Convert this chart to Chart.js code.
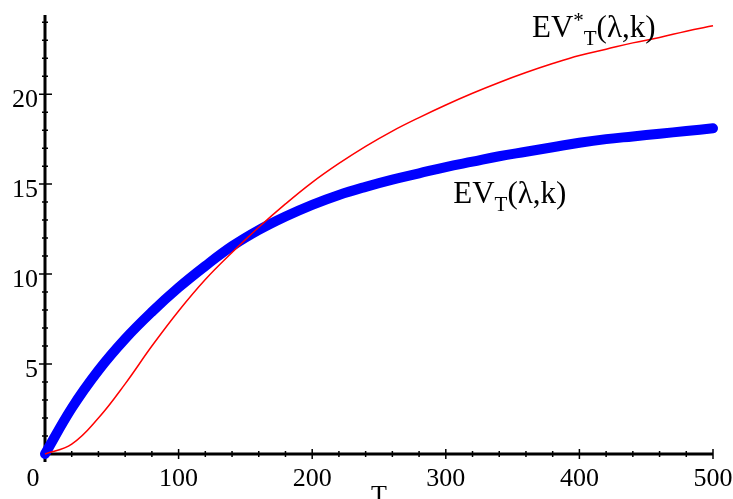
<!DOCTYPE html>
<html>
<head>
<meta charset="utf-8">
<script src="https://cdn.jsdelivr.net/npm/chart.js@4"></script>
<style>
  html, body { margin: 0; padding: 0; background: #fff; }
  #wrap { width: 733px; height: 499px; position: relative; }
</style>
</head>
<body>
<div id="wrap"><canvas id="grafico"></canvas></div>
<script>
// dados
const tValores = [0, 20, 40, 60, 80, 100, 120, 140, 160, 180, 200, 220, 240, 260, 280, 300, 320, 340, 360, 380, 400, 420, 440, 460, 480, 500];
const evT = [0, 2.55, 4.65, 6.4, 7.9, 9.25, 10.45, 11.55, 12.45, 13.2, 13.85, 14.4, 14.85, 15.25, 15.6, 15.95, 16.25, 16.55, 16.8, 17.05, 17.3, 17.5, 17.65, 17.8, 17.95, 18.1];
const evEstrela = [0, 0.55, 2.0, 3.9, 6.0, 7.95, 9.7, 11.2, 12.6, 13.9, 15.1, 16.15, 17.1, 17.95, 18.7, 19.4, 20.05, 20.65, 21.2, 21.7, 22.15, 22.5, 22.85, 23.15, 23.5, 23.8];

const xTicks = [0, 100, 200, 300, 400, 500];
const xMinorStep = 20;
const yTicks = [5, 10, 15, 20];
const yMinorStep = 1;
const yMax = 24.4;

const fonte = '"Liberation Serif", "Times New Roman", serif';

function pontos(ys) {
  return tValores.map((t, i) => ({ x: t, y: ys[i] }));
}

// eixos no estilo Maple (cruzando na origem)
const eixosPlugin = {
  id: 'eixos',
  beforeDatasetsDraw(chart) {
    const ctx = chart.ctx;
    const xs = chart.scales.x, ys = chart.scales.y;
    const x0 = xs.getPixelForValue(0), y0 = ys.getPixelForValue(0);
    const xEnd = xs.getPixelForValue(500), yTop = ys.getPixelForValue(yMax);
    ctx.save();
    ctx.strokeStyle = '#000';
    ctx.lineWidth = 3;
    ctx.beginPath();
    ctx.moveTo(x0, yTop); ctx.lineTo(x0, y0 + 8);
    ctx.moveTo(x0 - 4, y0); ctx.lineTo(xEnd, y0);
    ctx.stroke();

    ctx.lineWidth = 1.5;
    ctx.beginPath();
    for (let v = yMinorStep; v <= yMax; v += yMinorStep) {
      const p = ys.getPixelForValue(v);
      const major = yTicks.includes(v);
      ctx.moveTo(x0 - (major ? 6 : 3), p);
      ctx.lineTo(x0 + (major ? 7 : 3), p);
    }
    for (let v = xMinorStep; v <= 500; v += xMinorStep) {
      const p = xs.getPixelForValue(v);
      const major = xTicks.includes(v);
      ctx.moveTo(p, y0 - (major ? 5 : 3));
      ctx.lineTo(p, y0 + (major ? 5 : 3));
    }
    ctx.stroke();

    // rotulos
    ctx.fillStyle = '#000';
    ctx.font = '26px ' + fonte;
    ctx.textAlign = 'right';
    ctx.textBaseline = 'middle';
    yTicks.forEach(v => ctx.fillText(String(v), x0 - 7, ys.getPixelForValue(v) + 6));
    ctx.textAlign = 'center';
    ctx.textBaseline = 'top';
    xTicks.forEach(v => {
      const p = v === 0 ? x0 - 12 : xs.getPixelForValue(v);
      ctx.fillText(String(v), p, y0 + 12);
    });
    ctx.fillText('T', xs.getPixelForValue(250), y0 + 29);
    ctx.restore();
  }
};

// texto das curvas: EV*_T(λ,k) e EV_T(λ,k)
function desenhaRotulo(ctx, x, y, estrela) {
  ctx.font = '31px ' + fonte;
  ctx.fillText('EV', x, y);
  let px = x + ctx.measureText('EV').width;
  if (estrela) {
    ctx.font = '21px ' + fonte;
    ctx.fillText('*', px, y - 10);
    px += ctx.measureText('*').width;
  }
  ctx.font = '21px ' + fonte;
  ctx.fillText('T', px, y + 8);
  px += ctx.measureText('T').width;
  ctx.font = '31px ' + fonte;
  ctx.fillText('(λ,k)', px, y);
}

const rotulosPlugin = {
  id: 'rotulos',
  afterDraw(chart) {
    const ctx = chart.ctx;
    const xs = chart.scales.x, ys = chart.scales.y;
    ctx.save();
    ctx.fillStyle = '#000';
    ctx.textAlign = 'left';
    ctx.textBaseline = 'alphabetic';
    desenhaRotulo(ctx, xs.getPixelForValue(364.5), ys.getPixelForValue(23.2), true);
    desenhaRotulo(ctx, xs.getPixelForValue(305.6), ys.getPixelForValue(13.95), false);
    ctx.restore();
  }
};

new Chart(document.getElementById('grafico'), {
  type: 'line',
  data: {
    datasets: [
      {
        label: 'EV*T(λ,k)',
        data: pontos(evEstrela),
        borderColor: '#ff0000',
        borderWidth: 1.5,
        pointRadius: 0,
        tension: 0.4,
        order: 0,
        clip: false
      },
      {
        label: 'EVT(λ,k)',
        data: pontos(evT),
        borderColor: '#0000ff',
        borderWidth: 10,
        borderCapStyle: 'round',
        borderJoinStyle: 'round',
        pointRadius: 0,
        tension: 0.4,
        order: 1,
        clip: false
      }
    ]
  },
  options: {
    responsive: true,
    maintainAspectRatio: false,
    animation: false,
    layout: { padding: { left: 45, right: 20, top: 15, bottom: 45 } },
    plugins: { legend: { display: false }, tooltip: { enabled: false } },
    scales: {
      x: { type: 'linear', min: 0, max: 500, display: false },
      y: { type: 'linear', min: 0, max: yMax, display: false }
    }
  },
  plugins: [eixosPlugin, rotulosPlugin]
});
</script>
</body>
</html>
